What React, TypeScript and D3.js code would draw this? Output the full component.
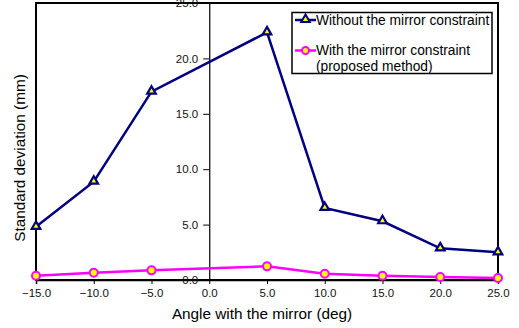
import React, { useRef, useEffect } from 'react';
import * as d3 from 'd3';

const angles = [-15, -10, -5, 5, 10, 15, 20, 25];
const withoutMirror = [4.8, 8.87, 17.0, 22.35, 6.5, 5.3, 2.86, 2.5];
const withMirror = [0.39, 0.66, 0.87, 1.23, 0.57, 0.39, 0.27, 0.18];
const xTicks = [-15, -10, -5, 0, 5, 10, 15, 20, 25];
const yTicks = [0, 5, 10, 15, 20, 25];

const App = () => {
  const svgRef = useRef<SVGSVGElement>(null);

  useEffect(() => {
    const width = 519;
    const height = 328;
    const font = 'Arial, "Liberation Sans", sans-serif';

    const svg = d3.select(svgRef.current)
      .attr('width', width)
      .attr('height', height);
    svg.selectAll('*').remove();

    const x = d3.scaleLinear().domain([-15, 25]).range([36, 498]);
    const y = d3.scaleLinear().domain([0, 25]).range([280, 3]);

    // frame
    svg.append('rect')
      .attr('x', x(-15)).attr('y', y(25))
      .attr('width', x(25) - x(-15)).attr('height', y(0) - y(25))
      .attr('fill', 'none').attr('stroke', '#000').attr('stroke-width', 2);

    // x axis
    const xAxis = svg.append('g')
      .attr('transform', `translate(0,${y(0)})`)
      .call(d3.axisBottom(x).tickValues(xTicks).tickSize(4).tickFormat(d3.format('.1f')));
    xAxis.select('.domain').attr('stroke-width', 1.5);
    xAxis.selectAll('text')
      .attr('font-family', font).attr('font-size', 11.5).attr('fill', '#111')
      .attr('dy', '0.9em')
      .text((d: any) => d3.format('.1f')(d).replace('-', '\u2212'));

    // y axis at x = 0
    const yAxis = svg.append('g')
      .attr('transform', `translate(${x(0)},0)`)
      .call(d3.axisLeft(y).tickValues(yTicks).tickSize(6).tickPadding(5).tickFormat(d3.format('.1f')));
    yAxis.select('.domain').attr('stroke-width', 1.2);
    yAxis.selectAll('text')
      .attr('font-family', font).attr('font-size', 11.5).attr('fill', '#111');

    const line = d3.line<number>()
      .x((d, i) => x(angles[i]))
      .y(d => y(d));

    // series: without constraint
    svg.append('path')
      .datum(withoutMirror)
      .attr('d', line)
      .attr('fill', 'none').attr('stroke', '#000080').attr('stroke-width', 2.5);

    // series: with constraint
    svg.append('path')
      .datum(withMirror)
      .attr('d', line)
      .attr('fill', 'none').attr('stroke', '#FF00FF').attr('stroke-width', 2.5);

    const tri = d3.symbol().type(d3.symbolTriangle).size(32);
    svg.append('g').selectAll('path')
      .data(withoutMirror)
      .enter().append('path')
      .attr('d', tri)
      .attr('transform', (d, i) => `translate(${x(angles[i])},${y(d) - 0.5})`)
      .attr('fill', '#FFFF00').attr('stroke', '#000080').attr('stroke-width', 2.2);

    svg.append('g').selectAll('circle')
      .data(withMirror)
      .enter().append('circle')
      .attr('cx', (d, i) => x(angles[i]))
      .attr('cy', d => y(d))
      .attr('r', 4)
      .attr('fill', '#FFFF00').attr('stroke', '#FF00FF').attr('stroke-width', 2);

    // legend
    const lg = svg.append('g');
    lg.append('rect')
      .attr('x', 292).attr('y', 12.5).attr('width', 200).attr('height', 61)
      .attr('fill', '#fff').attr('stroke', '#000').attr('stroke-width', 1.5);
    lg.append('line')
      .attr('x1', 295).attr('x2', 316).attr('y1', 20).attr('y2', 20)
      .attr('stroke', '#000080').attr('stroke-width', 2.5);
    lg.append('path')
      .attr('d', tri)
      .attr('transform', 'translate(305.5,19.5)')
      .attr('fill', '#FFFF00').attr('stroke', '#000080').attr('stroke-width', 2);
    lg.append('line')
      .attr('x1', 295).attr('x2', 316).attr('y1', 50.5).attr('y2', 50.5)
      .attr('stroke', '#FF00FF').attr('stroke-width', 2.5);
    lg.append('circle')
      .attr('cx', 305.5).attr('cy', 50.5).attr('r', 3.5)
      .attr('fill', '#FFFF00').attr('stroke', '#FF00FF').attr('stroke-width', 2);

    const legendText = [
      { t: 'Without the mirror constraint', y: 20 },
      { t: 'With the mirror constraint', y: 50.5 },
      { t: '(proposed method)', y: 66 },
    ];
    lg.selectAll('text.lt')
      .data(legendText)
      .enter().append('text')
      .attr('x', 316).attr('y', d => d.y)
      .attr('dy', '0.35em')
      .attr('font-family', font).attr('font-size', 13.8)
      .text(d => d.t);

    // axis titles
    svg.append('text')
      .attr('x', 262).attr('y', 314)
      .attr('text-anchor', 'middle').attr('dy', '0.35em')
      .attr('font-family', font).attr('font-size', 15.3)
      .text('Angle with the mirror (deg)');
    svg.append('text')
      .attr('transform', 'translate(20,158) rotate(-90)')
      .attr('text-anchor', 'middle').attr('dy', '0.35em')
      .attr('font-family', font).attr('font-size', 15.3)
      .text('Standard deviation (mm)');
  }, []);

  return <svg ref={svgRef} style={{ position: 'absolute', left: 0, top: 0, background: '#fff' }}></svg>;
};

export default App;
